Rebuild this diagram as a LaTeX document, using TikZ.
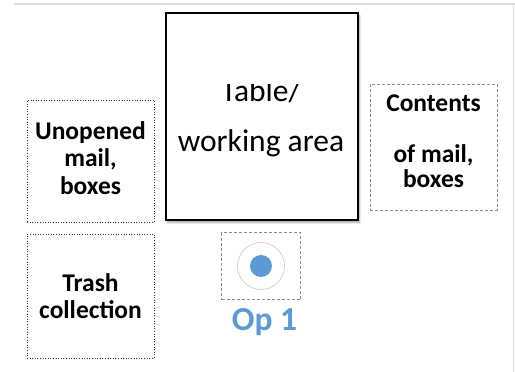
\documentclass[tikz,border=0pt]{standalone}
\usepackage{fontspec}
\setmainfont{Carlito}
\usetikzlibrary{shadows.blur}
\definecolor{opblue}{HTML}{5B9BD5}
\definecolor{edgegray}{HTML}{DDDDDD}
\tikzset{
  zonebox/.style={draw=black!80, line width=0.6pt, dotted, minimum width=127pt, minimum height=122pt, inner sep=0pt, align=center},
  softbox/.style={draw=black!45, line width=0.6pt, dash pattern=on 3pt off 2pt, inner sep=0pt, align=center},
  tablebox/.style={draw=black, line width=2pt, fill=white, minimum width=192pt, minimum height=207pt,
    blur shadow={shadow xshift=2pt, shadow yshift=-3pt, shadow blur steps=6, shadow opacity=35}},
  boldlabel/.style={font=\fontsize{25.5}{27.5}\selectfont\bfseries, align=center},
  tablelabel/.style={font=\fontsize{31.5}{40}\selectfont},
}
\begin{document}
\begin{tikzpicture}[x=1pt, y=-1pt]
  \useasboundingbox (0,0) rectangle (515,372);
  % frame lines along the top and right edge
  \draw[edgegray, line width=2pt] (14,3.5) -- (515,3.5);
  \draw[edgegray, line width=1pt] (513.5,3.5) -- (513.5,372);

  % central table
  \node[tablebox] (table) at (261.5,116) {};
  \begin{scope}
    \clip (170,84) rectangle (355,110);
    \node[tablelabel] (tabletop) at (261,91) {Table/};
  \end{scope}
  \node[tablelabel] (tablebottom) at (261,143) {working area};

  % side zones
  \node[zonebox] (unopened) at (90.5,161) {};
  \node[boldlabel] (unopenedtext) at (90.5,158) {Unopened\\mail,\\boxes};
  \node[zonebox, minimum height=124pt] (trash) at (90.5,296) {};
  \node[boldlabel] (trashtext) at (90.5,296) {Trash\\collection};
  \node[softbox, minimum width=127pt, minimum height=126pt] (contents) at (433.5,147) {};
  \node[boldlabel, font=\fontsize{25.5}{25.5}\selectfont\bfseries] (contentstext) at (433.5,141) {Contents\\[25.5pt]of mail,\\boxes};

  % operator position
  \node[softbox, minimum width=79pt, minimum height=67pt] (opbox) at (261,266) {};
  \node[circle, draw=black!25, line width=0.5pt, minimum size=47pt, inner sep=0pt] (ring) at (261,266) {};
  \node[circle, fill=opblue, minimum size=22pt, inner sep=0pt] (dot) at (261,266) {};
  \node[text=opblue, font=\fontsize{33.5}{36}\selectfont\bfseries] (oplabel) at (264.5,322) {Op 1};
\end{tikzpicture}
\end{document}
